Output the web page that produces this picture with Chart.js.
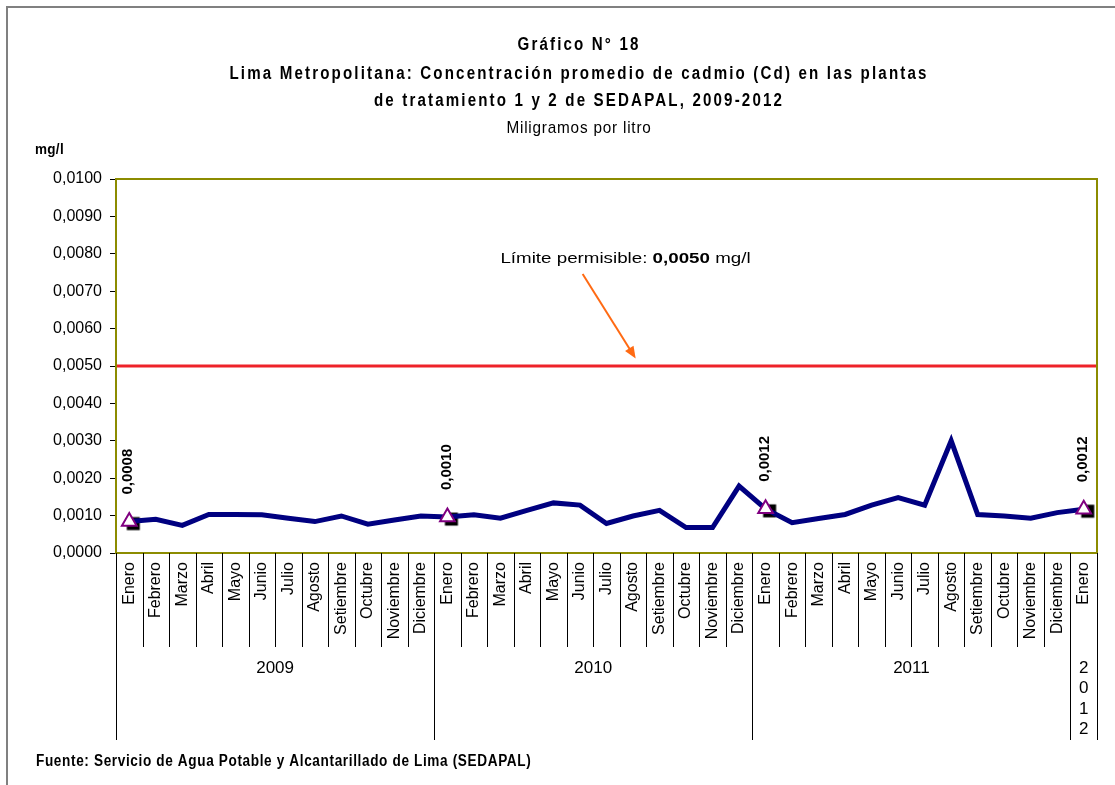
<!DOCTYPE html>
<html>
<head>
<meta charset="utf-8">
<script src="https://cdn.jsdelivr.net/npm/chart.js@4.4.1/dist/chart.umd.min.js"></script>
<style>
  html, body { margin: 0; padding: 0; background: #fff; }
  #wrap { position: relative; width: 1115px; height: 785px; }
</style>
</head>
<body>
<div id="wrap"><canvas id="canvas" width="1115" height="785"></canvas></div>
<script>
// **** data
var months = ["Enero", "Febrero", "Marzo", "Abril", "Mayo", "Junio", "Julio", "Agosto",
              "Setiembre", "Octubre", "Noviembre", "Diciembre"];
var years = ["2009", "2010", "2011", "2012"];
var monthsPerYear = [12, 12, 12, 1];

var cadmio = [
    0.00084, 0.00090, 0.00074, 0.00103, 0.00103, 0.00102, 0.00093, 0.00084, 0.00099, 0.00077, 0.00088, 0.00099,
    0.00096, 0.00102, 0.00093, 0.00114, 0.00134, 0.00128, 0.00079, 0.00099, 0.00114, 0.00068, 0.00068, 0.00179,
    0.00118, 0.00081, 0.00092, 0.00103, 0.00128, 0.00148, 0.00128, 0.00300, 0.00103, 0.00099, 0.00093, 0.00108,
    0.00117
];
var limite = 0.0050;
var yMin = 0, yMax = 0.0100, yStep = 0.0010;

var titleLines = [
    "Gráfico N° 18",
    "Lima Metropolitana: Concentración promedio de cadmio (Cd) en las plantas",
    "de tratamiento 1 y 2 de SEDAPAL, 2009-2012"
];
var subTitle = "Miligramos por litro";
var unitLabel = "mg/l";
var fuente = "Fuente: Servicio de Agua Potable y Alcantarillado de Lima (SEDAPAL)";

var plainFont = "'Liberation Sans', Arial, sans-serif";

// build the category list (one per month)
var labels = [];
var yearOfPoint = [];
for (let y = 0; y < years.length; y++) {
    for (let m = 0; m < monthsPerYear[y]; m++) {
        labels.push(months[m]);
        yearOfPoint.push(y);
    }
}

// January markers (values shown above them)
var eneroPoints = cadmio.map(function (v, i) { return labels[i] === "Enero" ? v : null; });

function fmt(v) {
    return v.toFixed(4).replace(".", ",");
}

// text with horizontal squeeze/stretch and letter spacing (the original uses a narrow font)
function drawText(ctx, text, x, y, font, sx, spacing, align) {
    ctx.save();
    ctx.font = font;
    ctx.letterSpacing = (spacing / sx) + "px";
    var w = ctx.measureText(text).width * sx;
    var left = x;
    if (align === "center") left = x - w / 2;
    if (align === "right") left = x - w;
    ctx.translate(left, y);
    ctx.scale(sx, 1);
    ctx.textAlign = "left";
    ctx.textBaseline = "middle";
    ctx.fillText(text, 0, 0);
    ctx.restore();
    return w;
}

// black square drawn a little to the lower right of the point (as in the original)
function squareMarker() {
    var c = document.createElement("canvas");
    c.width = 30;
    c.height = 30;
    var g = c.getContext("2d");
    g.fillStyle = "#000";
    g.fillRect(15 - 6.5 + 4, 15 - 6.5 + 2, 13, 13);
    return c;
}

var decor = {
    id: "decor",
    beforeDraw: function (chart) {
        var ctx = chart.ctx;
        ctx.save();
        ctx.fillStyle = "#fff";
        ctx.fillRect(0, 0, chart.width, chart.height);

        // outer frame (top / left)
        ctx.strokeStyle = "#808080";
        ctx.lineWidth = 2;
        ctx.beginPath();
        ctx.moveTo(7, chart.height);
        ctx.lineTo(7, 7);
        ctx.lineTo(chart.width, 7);
        ctx.stroke();

        // titles
        ctx.fillStyle = "#000";
        var ty = [45, 74, 101];
        for (let i = 0; i < titleLines.length; i++) {
            drawText(ctx, titleLines[i], 579, ty[i], "bold 18px " + plainFont, 0.84, 2.15, "center");
        }
        drawText(ctx, subTitle, 579, 128, "17px " + plainFont, 0.9, 0.8, "center");

        drawText(ctx, unitLabel, 35, 150, "bold 15px " + plainFont, 0.9, 0.3, "left");
        drawText(ctx, fuente, 36, 762, "bold 16px " + plainFont, 0.85, 0.63, "left");
        ctx.restore();
    },
    beforeDatasetsDraw: function (chart) {
        var ctx = chart.ctx, area = chart.chartArea;
        var yPix = chart.scales.y.getPixelForValue(limite);
        ctx.save();
        ctx.strokeStyle = "#ee2229";
        ctx.lineWidth = 3;
        ctx.beginPath();
        ctx.moveTo(area.left, yPix);
        ctx.lineTo(area.right, yPix);
        ctx.stroke();
        ctx.restore();
    },
    afterDraw: function (chart) {
        var ctx = chart.ctx, area = chart.chartArea;
        var xs = chart.scales.x, ys = chart.scales.y;
        ctx.save();

        // plot frame
        ctx.strokeStyle = "#8c8c00";
        ctx.lineWidth = 2;
        ctx.strokeRect(area.left, area.top, area.right - area.left, area.bottom - area.top);

        // month / year separators under the axis
        ctx.strokeStyle = "#000";
        ctx.lineWidth = 1;
        var n = labels.length;
        for (let i = 0; i <= n; i++) {
            var x = Math.round(xs.getPixelForValue(i - 0.5)) + 0.5;
            var yearEdge = (i === 0 || i === n || yearOfPoint[i] !== yearOfPoint[i - 1]);
            ctx.beginPath();
            ctx.moveTo(x, area.bottom);
            ctx.lineTo(x, area.bottom + (yearEdge ? 187 : 94));
            ctx.stroke();
        }

        // year labels
        ctx.fillStyle = "#000";
        ctx.font = "17px " + plainFont;
        ctx.textAlign = "center";
        ctx.textBaseline = "middle";
        var start = 0;
        for (let y = 0; y < years.length; y++) {
            var x0 = xs.getPixelForValue(start - 0.5);
            var x1 = xs.getPixelForValue(start + monthsPerYear[y] - 0.5);
            var cx = (x0 + x1) / 2;
            if (ctx.measureText(years[y]).width < (x1 - x0) - 6) {
                ctx.fillText(years[y], cx, area.bottom + 115);
            } else {
                for (let c = 0; c < years[y].length; c++) {
                    ctx.fillText(years[y][c], cx, area.bottom + 115 + c * 20.5);
                }
            }
            start += monthsPerYear[y];
        }

        // value labels above January markers
        var meta = chart.getDatasetMeta(2);
        ctx.font = "bold 15px " + plainFont;
        ctx.textAlign = "left";
        meta.data.forEach(function (pt, i) {
            if (eneroPoints[i] === null) return;
            ctx.save();
            ctx.translate(pt.x - 1, pt.y - 27);
            ctx.rotate(-Math.PI / 2);
            ctx.fillText(fmt(eneroPoints[i]), 0, 0);
            ctx.restore();
        });

        // annotation for the limit
        var tx = xs.getPixelForValue(14.0), ty = ys.getPixelForValue(0.00786);
        var w1 = drawText(ctx, "Límite permisible: ", tx, ty, "15px " + plainFont, 1.25, 0, "left");
        var w2 = drawText(ctx, fmt(limite), tx + w1, ty, "bold 15px " + plainFont, 1.25, 0, "left");
        drawText(ctx, " mg/l", tx + w1 + w2, ty, "15px " + plainFont, 1.25, 0, "left");

        var ax0 = xs.getPixelForValue(17.1), ay0 = ys.getPixelForValue(0.00746);
        var ax1 = xs.getPixelForValue(19.1), ay1 = ys.getPixelForValue(0.0052);
        var ang = Math.atan2(ay1 - ay0, ax1 - ax0);
        ctx.strokeStyle = "#ff6a13";
        ctx.fillStyle = "#ff6a13";
        ctx.lineWidth = 2;
        ctx.beginPath();
        ctx.moveTo(ax0, ay0);
        ctx.lineTo(ax1 - 8 * Math.cos(ang), ay1 - 8 * Math.sin(ang));
        ctx.stroke();
        ctx.beginPath();
        ctx.moveTo(ax1, ay1);
        ctx.lineTo(ax1 - 12 * Math.cos(ang) + 5 * Math.sin(ang), ay1 - 12 * Math.sin(ang) - 5 * Math.cos(ang));
        ctx.lineTo(ax1 - 12 * Math.cos(ang) - 5 * Math.sin(ang), ay1 - 12 * Math.sin(ang) + 5 * Math.cos(ang));
        ctx.closePath();
        ctx.fill();

        ctx.restore();
    }
};

window.addEventListener("load", function () {
    var ctx = document.getElementById("canvas").getContext("2d");
    new Chart(ctx, {
        type: "line",
        data: {
            labels: labels,
            datasets: [{
                label: "Cadmio",
                data: cadmio,
                borderColor: "#000080",
                borderWidth: 5,
                pointRadius: 0,
                tension: 0,
                fill: false,
                order: 1
            }, {
                label: "Enero (cuadro)",
                data: eneroPoints,
                showLine: false,
                pointStyle: squareMarker(),
                pointRadius: 10,
                order: 2
            }, {
                label: "Enero",
                data: eneroPoints,
                showLine: false,
                pointStyle: "triangle",
                pointRadius: 8.5,
                pointBorderWidth: 2,
                pointBackgroundColor: "#fff",
                pointBorderColor: "#800080",
                order: 0
            }]
        },
        options: {
            responsive: false,
            animation: false,
            layout: { padding: { left: 0, right: 18, top: 179, bottom: 0 } },
            plugins: {
                legend: { display: false },
                title: { display: false },
                tooltip: { enabled: false }
            },
            scales: {
                x: {
                    offset: true,
                    grid: { display: false, drawTicks: false },
                    border: { display: false },
                    ticks: {
                        autoSkip: false,
                        minRotation: 90,
                        maxRotation: 90,
                        padding: 9,
                        color: "#000",
                        font: { family: plainFont, size: 16 }
                    },
                    afterFit: function (scale) { scale.height = 232; }
                },
                y: {
                    min: yMin,
                    max: yMax,
                    grid: { drawOnChartArea: false, color: "#000", tickLength: 6 },
                    border: { display: false },
                    ticks: {
                        stepSize: yStep,
                        padding: 8,
                        color: "#000",
                        font: { family: plainFont, size: 16 },
                        callback: function (v) { return fmt(v); }
                    },
                    afterFit: function (scale) { scale.width = 116; }
                }
            }
        },
        plugins: [decor]
    });
});
</script>
</body>
</html>
